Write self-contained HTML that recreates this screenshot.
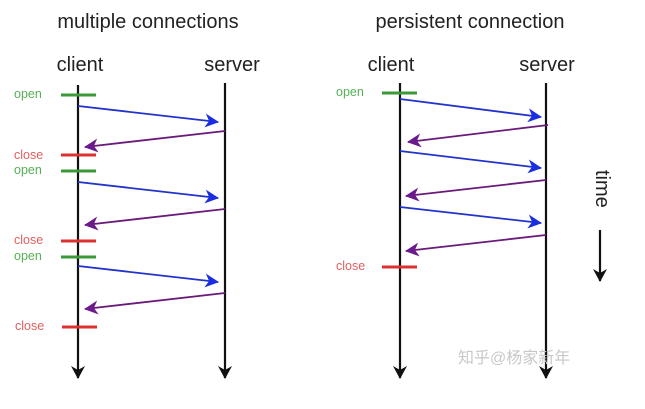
<!DOCTYPE html>
<html><head><meta charset="utf-8"><style>
html,body{margin:0;padding:0;background:#fff;}
svg{display:block;}
</style></head><body>
<svg width="645" height="409" viewBox="0 0 645 409" xmlns="http://www.w3.org/2000/svg" font-family="Liberation Sans, sans-serif">
<defs>
<marker id="b" markerWidth="14" markerHeight="14" refX="13" refY="7" orient="auto" markerUnits="userSpaceOnUse"><path d="M0,0 L14,7 L0,14 L4,7 z" fill="#1a2ee0"/></marker>
<marker id="p" markerWidth="14" markerHeight="14" refX="13" refY="7" orient="auto" markerUnits="userSpaceOnUse"><path d="M0,0 L14,7 L0,14 L4,7 z" fill="#6a1a8a"/></marker>
<marker id="k" markerWidth="14" markerHeight="14" refX="12" refY="7" orient="auto" markerUnits="userSpaceOnUse"><path d="M0,0 L13,7 L0,14 L4,7 z" fill="#111"/></marker>
</defs>
<g font-size="20" fill="#222" text-anchor="middle">
<text x="148" y="28">multiple connections</text>
<text x="470" y="28">persistent connection</text>
<text x="80" y="71">client</text>
<text x="232" y="71">server</text>
<text x="391" y="71">client</text>
<text x="547" y="71">server</text>
</g>
<g stroke="#111" stroke-width="2.2">
<line x1="78" y1="85" x2="78" y2="378" marker-end="url(#k)"/>
<line x1="225" y1="83" x2="225" y2="378" marker-end="url(#k)"/>
<line x1="400" y1="83" x2="400" y2="378" marker-end="url(#k)"/>
<line x1="546" y1="83" x2="546" y2="378" marker-end="url(#k)"/>
<line x1="600" y1="230" x2="600" y2="281" marker-end="url(#k)"/>
</g>
<text x="0" y="0" font-size="20" fill="#222" transform="translate(596,170) rotate(90)">time</text>
<g stroke-width="3">
<line x1="61" y1="95" x2="96" y2="95" stroke="#3a9a3a"/>
<line x1="61" y1="155" x2="96" y2="155" stroke="#dd3030"/>
<line x1="61" y1="171" x2="96" y2="171" stroke="#3a9a3a"/>
<line x1="61" y1="241" x2="96" y2="241" stroke="#dd3030"/>
<line x1="61" y1="257" x2="96" y2="257" stroke="#3a9a3a"/>
<line x1="62" y1="327" x2="97" y2="327" stroke="#dd3030"/>
<line x1="382" y1="93" x2="417" y2="93" stroke="#3a9a3a"/>
<line x1="382" y1="267" x2="417" y2="267" stroke="#dd3030"/>
</g>
<g font-size="12.5">
<text x="14" y="98" fill="#55b055">open</text>
<text x="14" y="159" fill="#e06060">close</text>
<text x="14" y="174" fill="#55b055">open</text>
<text x="14" y="244" fill="#e06060">close</text>
<text x="14" y="260" fill="#55b055">open</text>
<text x="15" y="330" fill="#e06060">close</text>
<text x="336" y="96" fill="#55b055">open</text>
<text x="336" y="270" fill="#e06060">close</text>
</g>
<g stroke-width="1.8" fill="none">
<line x1="78" y1="106" x2="218" y2="122" stroke="#2233cc" marker-end="url(#b)"/>
<line x1="225" y1="131" x2="85" y2="147" stroke="#6a1a7a" marker-end="url(#p)"/>
<line x1="78" y1="182" x2="218" y2="198" stroke="#2233cc" marker-end="url(#b)"/>
<line x1="225" y1="209" x2="85" y2="225" stroke="#6a1a7a" marker-end="url(#p)"/>
<line x1="78" y1="266" x2="218" y2="282" stroke="#2233cc" marker-end="url(#b)"/>
<line x1="225" y1="293" x2="85" y2="309" stroke="#6a1a7a" marker-end="url(#p)"/>
<line x1="400" y1="99" x2="541" y2="117" stroke="#2233cc" marker-end="url(#b)"/>
<line x1="548" y1="125" x2="408" y2="142" stroke="#6a1a7a" marker-end="url(#p)"/>
<line x1="400" y1="151" x2="541" y2="168" stroke="#2233cc" marker-end="url(#b)"/>
<line x1="546" y1="180" x2="406" y2="196" stroke="#6a1a7a" marker-end="url(#p)"/>
<line x1="400" y1="207" x2="541" y2="223" stroke="#2233cc" marker-end="url(#b)"/>
<line x1="546" y1="235" x2="406" y2="251" stroke="#6a1a7a" marker-end="url(#p)"/>
</g>
<text x="458" y="363" font-size="16" fill="#c8c8c8" font-family="Liberation Sans, Noto Sans CJK SC, sans-serif">知乎@杨家新年</text>
</svg>
</body></html>
